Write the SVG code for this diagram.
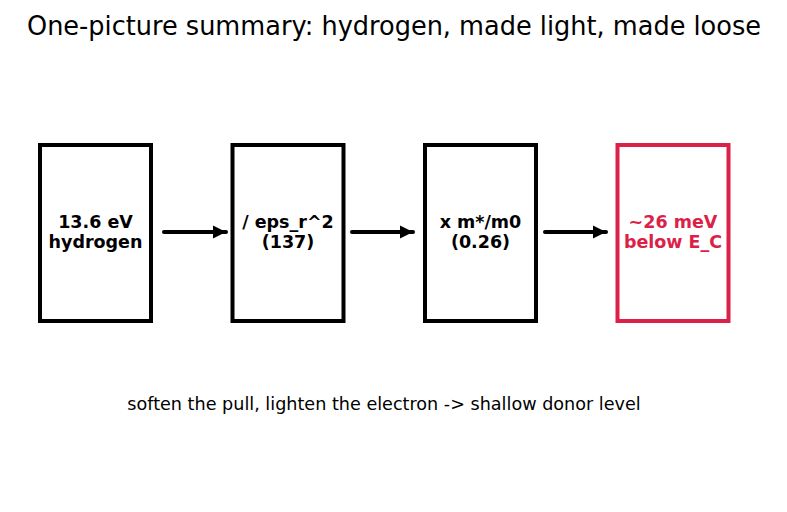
<svg xmlns="http://www.w3.org/2000/svg" width="787" height="512" viewBox="0 0 787 512">
<style>
.box{fill:#fff;stroke:#000;stroke-width:4}
.red{stroke:#dc2148}
.lbl{font-family:"DejaVu Sans",sans-serif;font-weight:bold;font-size:17.5px;text-anchor:middle;fill:#000}
.lblr{fill:#dc2148}
.conn{stroke:#000;stroke-width:4;stroke-linecap:round;fill:none}
</style>
<defs>
<marker id="ah" viewBox="0 0 10 10" refX="10" refY="5" markerWidth="3.3" markerHeight="3.3" orient="auto" markerUnits="strokeWidth">
<path d="M0,0 L10,5 L0,10 z" fill="#000"/>
</marker>
</defs>
<rect width="787" height="512" fill="#fff"/>
<text x="394" y="35" font-family="DejaVu Sans,sans-serif" font-size="26" text-anchor="middle" textLength="734" lengthAdjust="spacingAndGlyphs">One-picture summary: hydrogen, made light, made loose</text>
<g id="n1"><rect class="box" x="40" y="145" width="111" height="176"/><text class="lbl" x="95.5" y="228">13.6 eV</text><text class="lbl" x="95.5" y="248">hydrogen</text></g>
<g id="n2"><rect class="box" x="232.5" y="145" width="111" height="176"/><text class="lbl" x="288" y="228">/ eps_r^2</text><text class="lbl" x="288" y="248">(137)</text></g>
<g id="n3"><rect class="box" x="425" y="145" width="111" height="176"/><text class="lbl" x="480.5" y="228">x m*/m0</text><text class="lbl" x="480.5" y="248">(0.26)</text></g>
<g id="n4"><rect class="box red" x="617.5" y="145" width="111" height="176"/><text class="lbl lblr" x="673" y="228">~26 meV</text><text class="lbl lblr" x="673" y="248">below E_C</text></g>
<g id="connectors">
<line class="conn" x1="164" y1="232" x2="226" y2="232" marker-end="url(#ah)"/>
<line class="conn" x1="352" y1="232" x2="413" y2="232" marker-end="url(#ah)"/>
<line class="conn" x1="545" y1="232" x2="606" y2="232" marker-end="url(#ah)"/>
</g>
<text x="384" y="410" font-family="DejaVu Sans,sans-serif" font-size="17.6" text-anchor="middle">soften the pull, lighten the electron -&gt; shallow donor level</text>
</svg>
